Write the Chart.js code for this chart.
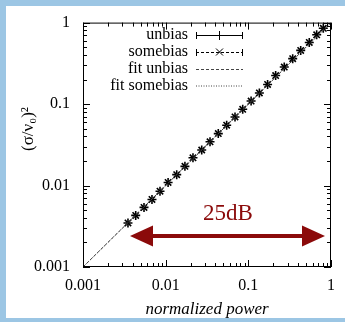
<!DOCTYPE html>
<html>
<head>
<meta charset="utf-8">
<script src="https://cdn.jsdelivr.net/npm/chart.js@4"></script>
<style>
  html, body { margin: 0; padding: 0; background: #fff; }
  #wrap { width: 345px; height: 322px; }
</style>
</head>
<body>
<div id="wrap"><canvas id="chart" width="345" height="322"></canvas></div>
<script>
// normalized power (x) and (sigma/nu0)^2 for both runs
const power = [0.0035, 0.00434, 0.00547, 0.00683, 0.00854, 0.0107, 0.0136, 0.0171, 0.0214, 0.0273,
  0.0344, 0.0433, 0.0547, 0.069, 0.0855, 0.108, 0.136, 0.171, 0.214, 0.272,
  0.344, 0.43, 0.546, 0.671, 0.807];
const unbias = [0.00347, 0.0043, 0.00539, 0.00675, 0.00852, 0.0109, 0.0136, 0.0172, 0.0219, 0.0273,
  0.0344, 0.0434, 0.055, 0.0694, 0.0862, 0.109, 0.137, 0.174, 0.224, 0.285,
  0.361, 0.456, 0.57, 0.708, 0.852];
const somebias = [0.00347, 0.0043, 0.00539, 0.00675, 0.00852, 0.0109, 0.0136, 0.0172, 0.0219, 0.0273,
  0.0344, 0.0434, 0.055, 0.0694, 0.0862, 0.109, 0.137, 0.174, 0.224, 0.285,
  0.361, 0.456, 0.57, 0.708, 0.852];
const fitX = [0.001, 1];
const fitY = [0.001, 1];
const tickValues = [0.001, 0.01, 0.1, 1];
const legendLabels = ["unbias", "somebias", "fit unbias", "fit somebias"];

const serif = "'Liberation Serif', 'DejaVu Serif', serif";
const darkRed = "#8b0a0a";

function pts(xs, ys) {
  return xs.map((x, i) => ({ x: x, y: ys[i] }));
}

function line(c, x1, y1, x2, y2) {
  c.beginPath();
  c.moveTo(x1, y1);
  c.lineTo(x2, y2);
  c.stroke();
}

const decor = {
  id: "decor",
  beforeDraw(chart) {
    const c = chart.ctx;
    c.save();
    c.fillStyle = "#9cc6e4";
    c.fillRect(0, 0, 345, 322);
    c.fillStyle = "#fff";
    c.fillRect(6, 6, 339, 312);
    c.restore();
  },
  afterDraw(chart) {
    const c = chart.ctx;
    const a = chart.chartArea;
    const xs = chart.scales.x, ys = chart.scales.y;
    c.save();
    c.strokeStyle = "#000";
    c.lineWidth = 1;
    c.strokeRect(a.left + 0.5, a.top + 0.5, a.right - a.left - 1, a.bottom - a.top - 1);

    // gnuplot style ticks, inside, mirrored
    for (let e = -3; e <= 0; e++) {
      for (let m = 1; m < 10; m++) {
        const v = m * Math.pow(10, e);
        if (v > 1.0001) break;
        const len = m === 1 ? 7 : 4;
        const px = Math.round(xs.getPixelForValue(v)) + 0.5;
        line(c, px, a.bottom, px, a.bottom - len);
        line(c, px, a.top, px, a.top + len);
        const py = Math.round(ys.getPixelForValue(v)) + 0.5;
        line(c, a.left, py, a.left + len, py);
        line(c, a.right, py, a.right - len, py);
      }
    }

    // legend
    c.font = "16px " + serif;
    c.fillStyle = "#000";
    c.textAlign = "right";
    c.textBaseline = "middle";
    const rows = [35, 52, 69, 85.5];
    const lx1 = 196, lx2 = 243, lmid = (lx1 + lx2) / 2;
    legendLabels.forEach((t, i) => c.fillText(t, 188, rows[i]));
    c.strokeStyle = "#000";
    // unbias: solid with error caps and +
    line(c, lx1, rows[0] + 0.5, lx2, rows[0] + 0.5);
    line(c, lx1 + 0.5, rows[0] - 3, lx1 + 0.5, rows[0] + 4);
    line(c, lx2 - 0.5, rows[0] - 3, lx2 - 0.5, rows[0] + 4);
    line(c, lmid, rows[0] - 4, lmid, rows[0] + 5);
    // somebias: dashed with caps and x
    c.setLineDash([3, 2]);
    line(c, lx1, rows[1] + 0.5, lx2, rows[1] + 0.5);
    c.setLineDash([]);
    line(c, lx1 + 0.5, rows[1] - 3, lx1 + 0.5, rows[1] + 4);
    line(c, lx2 - 0.5, rows[1] - 3, lx2 - 0.5, rows[1] + 4);
    line(c, lmid - 3.5, rows[1] - 3.5, lmid + 3.5, rows[1] + 3.5);
    line(c, lmid - 3.5, rows[1] + 3.5, lmid + 3.5, rows[1] - 3.5);
    // fits
    c.strokeStyle = "#444";
    c.setLineDash([3, 2]);
    line(c, lx1, rows[2] + 0.5, lx2, rows[2] + 0.5);
    c.setLineDash([1, 1.5]);
    line(c, lx1, rows[3] + 0.5, lx2, rows[3] + 0.5);
    c.setLineDash([]);

    // y axis title
    c.save();
    c.translate(29, 129);
    c.rotate(-Math.PI / 2);
    c.textAlign = "center";
    c.textBaseline = "middle";
    c.fillStyle = "#000";
    c.font = "17px " + serif;
    c.fillText("(σ/ν₀)²", 0, 0);
    c.restore();

    // 25dB double arrow
    const ay = 236, ax1 = 130, ax2 = 325, head = 23, half = 10.5;
    c.strokeStyle = darkRed;
    c.fillStyle = darkRed;
    c.lineWidth = 4;
    line(c, ax1 + head - 2, ay, ax2 - head + 2, ay);
    c.beginPath();
    c.moveTo(ax1, ay);
    c.lineTo(ax1 + head, ay - half);
    c.lineTo(ax1 + head, ay + half);
    c.closePath();
    c.fill();
    c.beginPath();
    c.moveTo(ax2, ay);
    c.lineTo(ax2 - head, ay - half);
    c.lineTo(ax2 - head, ay + half);
    c.closePath();
    c.fill();
    c.font = "23px " + serif;
    c.textAlign = "center";
    c.textBaseline = "alphabetic";
    c.fillText("25dB", 228, 220);
    c.restore();
  }
};

const chart = new Chart(document.getElementById("chart"), {
  type: "scatter",
  data: {
    datasets: [
      {
        label: "fit unbias",
        data: pts(fitX, fitY),
        showLine: true,
        borderColor: "#444",
        borderWidth: 1,
        borderDash: [3, 2],
        pointRadius: 0
      },
      {
        label: "fit somebias",
        data: pts(fitX, fitY),
        showLine: true,
        borderColor: "#444",
        borderWidth: 1,
        borderDash: [1, 1.5],
        pointRadius: 0
      },
      {
        label: "unbias",
        data: pts(power, unbias),
        pointStyle: "cross",
        pointRadius: 4.5,
        borderColor: "#000",
        backgroundColor: "#000",
        pointBorderWidth: 1.6
      },
      {
        label: "somebias",
        data: pts(power, somebias),
        pointStyle: "crossRot",
        pointRadius: 4.5,
        borderColor: "#000",
        backgroundColor: "#000",
        pointBorderWidth: 1.6
      }
    ]
  },
  options: {
    responsive: false,
    animation: false,
    devicePixelRatio: 1,
    layout: { padding: { left: 0, top: 21, right: 14, bottom: 0 } },
    plugins: { legend: { display: false }, tooltip: { enabled: false } },
    scales: {
      x: {
        type: "logarithmic",
        min: 0.001,
        max: 1,
        grid: { display: false, drawTicks: false },
        border: { display: false },
        afterBuildTicks: s => { s.ticks = tickValues.map(v => ({ value: v })); },
        afterFit: s => { s.height = 55; },
        ticks: {
          color: "#000",
          padding: 9,
          maxRotation: 0,
          font: { family: serif, size: 16 },
          callback: v => String(v)
        },
        title: {
          display: true,
          text: "normalized power",
          color: "#000",
          font: { family: serif, size: 17, style: "italic" },
          padding: { top: 0, bottom: 2 }
        }
      },
      y: {
        type: "logarithmic",
        min: 0.001,
        max: 1,
        grid: { display: false, drawTicks: false },
        border: { display: false },
        afterBuildTicks: s => { s.ticks = tickValues.map(v => ({ value: v })); },
        afterFit: s => { s.width = 83; },
        ticks: {
          color: "#000",
          padding: 13,
          font: { family: serif, size: 16 },
          callback: v => String(v)
        }
      }
    }
  },
  plugins: [decor]
});
</script>
</body>
</html>
